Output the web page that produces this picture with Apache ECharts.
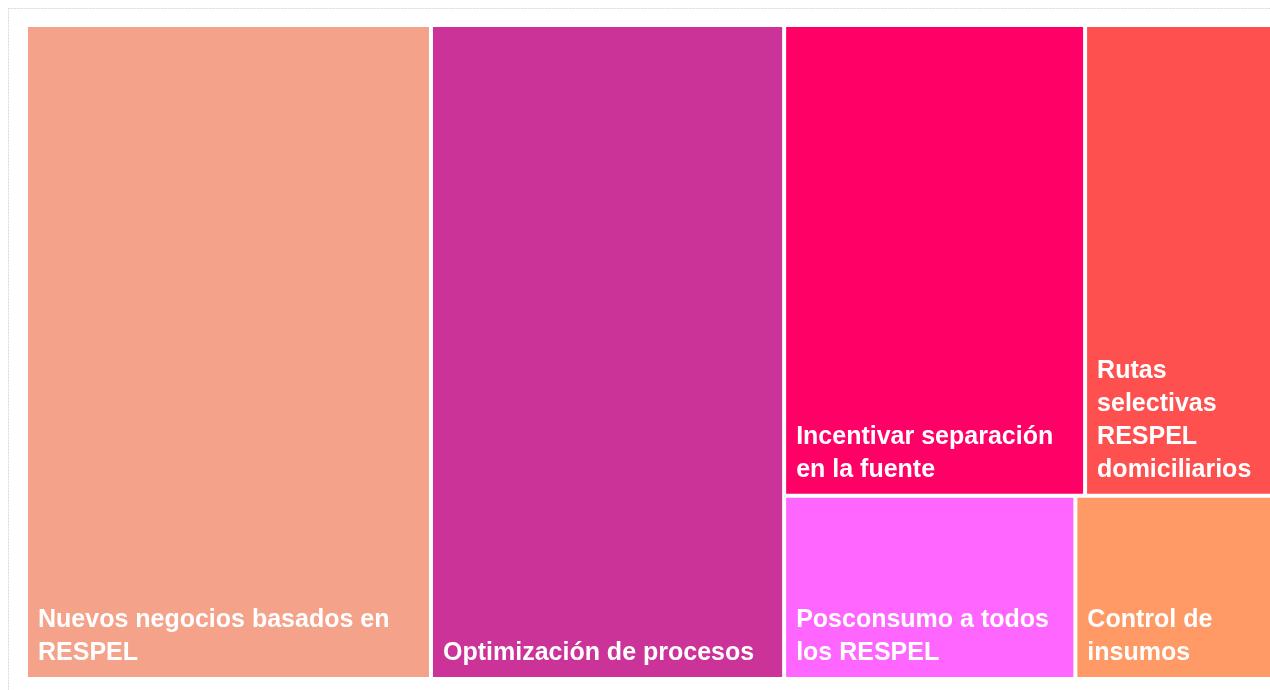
<!DOCTYPE html>
<html>
<head>
<meta charset="utf-8">
<script src="https://cdn.jsdelivr.net/npm/echarts@6/dist/echarts.min.js"></script>
<style>
  html, body { margin: 0; padding: 0; background: #fff; }
  #chart { width: 1270px; height: 690px; }
</style>
</head>
<body>
<div id="chart"></div>
<script>
  // categories and values
  const names = [
    'Nuevos negocios basados en RESPEL',
    'Optimización de procesos',
    'Incentivar separación en la fuente',
    'Rutas selectivas RESPEL domiciliarios',
    'Posconsumo a todos los RESPEL',
    'Control de insumos'
  ]
  const labels = [
    'Nuevos negocios basados en\nRESPEL',
    'Optimización de procesos',
    'Incentivar separación\nen la fuente',
    'Rutas\nselectivas\nRESPEL\ndomiciliarios',
    'Posconsumo a todos\nlos RESPEL',
    'Control de\ninsumos'
  ]
  const values = [25.8, 22.5, 13.8, 8.8, 5.2, 3.6]
  const colors = ['#F4A28A', '#CC3399', '#FF0066', '#FF5050', '#FF66FF', '#FF9966']

  const leaf = (i) => ({
    name: names[i],
    value: values[i],
    label: { formatter: labels[i] },
    itemStyle: { color: colors[i] },
  })

  // nesting keeps the same arrangement as the original
  const treeData = [
    leaf(0),
    {
      name: 'g1',
      children: [
        leaf(1),
        {
          name: 'g2',
          children: [
            { name: 'g3', children: [leaf(2), leaf(3)] },
            { name: 'g4', children: [leaf(4), leaf(5)] },
          ],
        },
      ],
    },
  ]

  const chart = echarts.init(document.getElementById('chart'))
  chart.setOption({
    animation: false,
    graphic: [
      {
        type: 'rect',
        shape: { x: 8.5, y: 8.5, width: 1300, height: 700 },
        style: { fill: 'none', stroke: '#d9d9d9', lineWidth: 1, lineDash: [2, 1] },
        silent: true,
      },
    ],
    series: [
      {
        type: 'treemap',
        left: 28,
        top: 27,
        width: 1247,
        height: 650,
        sort: false,
        squareRatio: 1,
        roam: false,
        nodeClick: false,
        breadcrumb: { show: false },
        itemStyle: { gapWidth: 4, borderWidth: 0, borderColor: '#fff' },
        label: {
          show: true,
          position: 'insideBottomLeft',
          distance: 5,
          offset: [0, 3],
          color: '#fff',
          fontFamily: 'Liberation Sans',
          fontWeight: 'bold',
          fontSize: 25,
          lineHeight: 33,
          overflow: 'none',
        },
        upperLabel: { show: false },
        data: treeData,
      },
    ],
  })
</script>
</body>
</html>
